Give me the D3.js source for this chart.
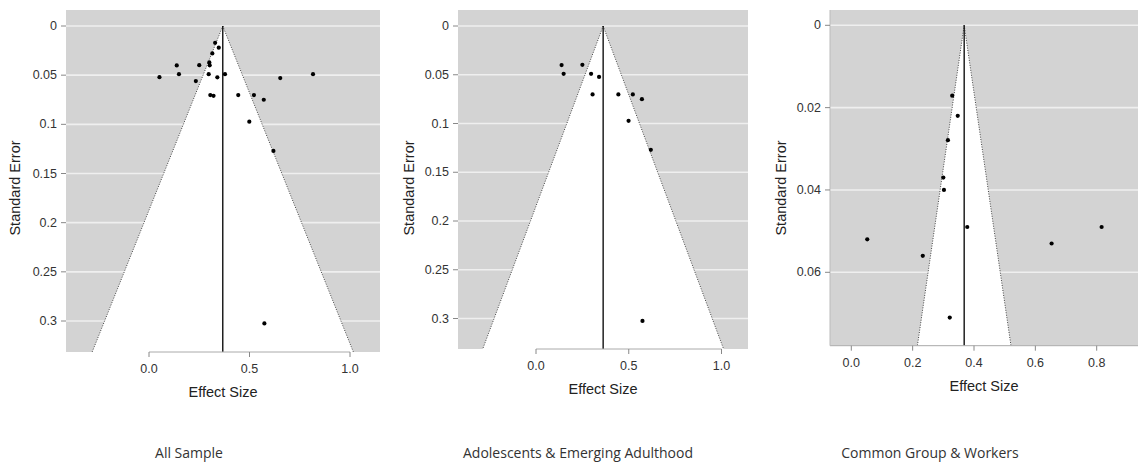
<!DOCTYPE html>
<html>
<head>
<meta charset="utf-8">
<script src="https://cdn.jsdelivr.net/npm/d3@7"></script>
<style>
  body { margin: 0; background: #fff; }
  svg { display: block; }
  .tick-label { font-family: "Liberation Sans", Arial, sans-serif; font-size: 12.5px; fill: #333; }
  .axis-title { font-family: "Liberation Sans", Arial, sans-serif; font-size: 14.5px; fill: #222; }
  .caption { font-family: "Open Sans", "Noto Sans", sans-serif; font-size: 14px; fill: #333; }
</style>
</head>
<body>
<svg id="chart" width="1138" height="464"></svg>
<script>
// data (effect size, standard error) per study
var adolescentsEffect = [0.138, 0.149, 0.250, 0.297, 0.340, 0.305, 0.444, 0.522, 0.571, 0.499, 0.619, 0.574];
var adolescentsSE     = [0.0401, 0.0490, 0.0398, 0.0490, 0.0522, 0.0702, 0.0702, 0.0702, 0.0750, 0.0973, 0.1270, 0.3025];
var workersEffect = [0.329, 0.347, 0.315, 0.300, 0.302, 0.378, 0.052, 0.233, 0.321, 0.653, 0.816];
var workersSE     = [0.0171, 0.0220, 0.0279, 0.0370, 0.0400, 0.0490, 0.0520, 0.0560, 0.0710, 0.0530, 0.0490];

var allEffect = adolescentsEffect.concat(workersEffect);
var allSE = adolescentsSE.concat(workersSE);

var pooled = [0.367, 0.362, 0.368];
var captions = ['All Sample', 'Adolescents & Emerging Adulthood', 'Common Group & Workers'];

var xTicksWide = [0, 0.5, 1];
var yTicksWide = [0, 0.05, 0.1, 0.15, 0.2, 0.25, 0.3];
var xTicksNarrow = [0, 0.2, 0.4, 0.6, 0.8];
var yTicksNarrow = [0, 0.02, 0.04, 0.06];

var svg = d3.select('#chart');

var panels = [
  { effect: allEffect, se: allSE, pooled: pooled[0], caption: captions[0],
    left: 66, right: 380, top: 10, bottom: 352,
    xDomain: [0, 1], xRange: [149, 350], yDomain: [0, 0.3], yRange: [26, 321],
    xTicks: xTicksWide, yTicks: yTicksWide, fullAxis: false, yTitleX: 20, captionX: 189 },
  { effect: adolescentsEffect, se: adolescentsSE, pooled: pooled[1], caption: captions[1],
    left: 458, right: 748, top: 10, bottom: 349,
    xDomain: [0, 1], xRange: [536, 721.5], yDomain: [0, 0.3], yRange: [26, 318.5],
    xTicks: xTicksWide, yTicks: yTicksWide, fullAxis: false, yTitleX: 414, captionX: 578 },
  { effect: workersEffect, se: workersSE, pooled: pooled[2], caption: captions[2],
    left: 830, right: 1138, top: 10, bottom: 345.7,
    xDomain: [0, 0.8], xRange: [851.3, 1096.7], yDomain: [0, 0.06], yRange: [25.3, 272.3],
    xTicks: xTicksNarrow, yTicks: yTicksNarrow, fullAxis: true, yTitleX: 786, captionX: 930 }
];

panels.forEach(function(p, i){
  var x = d3.scaleLinear().domain(p.xDomain).range(p.xRange);
  var y = d3.scaleLinear().domain(p.yDomain).range(p.yRange);
  var g = svg.append('g');

  g.append('clipPath').attr('id', 'clip' + i)
    .append('rect')
    .attr('x', p.left).attr('y', p.top)
    .attr('width', p.right - p.left).attr('height', p.bottom - p.top);

  var plot = g.append('g').attr('clip-path', 'url(#clip' + i + ')');

  // background
  plot.append('rect')
    .attr('x', p.left).attr('y', p.top)
    .attr('width', p.right - p.left).attr('height', p.bottom - p.top)
    .style('fill', '#d3d3d3');

  // grid lines
  plot.selectAll('.grid').data(p.yTicks).enter().append('line')
    .attr('x1', p.left).attr('x2', p.right)
    .attr('y1', function(d){ return y(d); }).attr('y2', function(d){ return y(d); })
    .style('stroke', '#efefef').style('stroke-width', 1.6);

  // funnel
  var seMax = y.invert(p.bottom);
  var funnel = [[p.pooled, 0], [p.pooled - 1.96 * seMax, seMax], [p.pooled + 1.96 * seMax, seMax]];
  plot.append('path')
    .attr('d', d3.line().x(function(d){ return x(d[0]); }).y(function(d){ return y(d[1]); })(funnel) + 'Z')
    .style('fill', '#fff');

  var edge = d3.line().x(function(d){ return x(d[0]); }).y(function(d){ return y(d[1]); });
  plot.append('path').attr('d', edge([funnel[0], funnel[1]]))
    .style('fill', 'none').style('stroke', '#444').style('stroke-width', 1).style('stroke-dasharray', '1,1.5');
  plot.append('path').attr('d', edge([funnel[0], funnel[2]]))
    .style('fill', 'none').style('stroke', '#444').style('stroke-width', 1).style('stroke-dasharray', '1,1.5');

  // pooled estimate line
  plot.append('line')
    .attr('x1', x(p.pooled)).attr('x2', x(p.pooled))
    .attr('y1', y(0)).attr('y2', p.bottom)
    .style('stroke', '#111').style('stroke-width', 1.4);

  // studies
  plot.selectAll('.dot').data(p.effect).enter().append('circle')
    .attr('cx', function(d){ return x(d); })
    .attr('cy', function(d, j){ return y(p.se[j]); })
    .attr('r', 2.1)
    .style('fill', '#000');

  // x axis
  var ax0 = p.fullAxis ? p.left : x(p.xTicks[0]);
  var ax1 = p.fullAxis ? p.right : x(p.xTicks[p.xTicks.length - 1]);
  g.append('line')
    .attr('x1', ax0).attr('x2', ax1).attr('y1', p.bottom).attr('y2', p.bottom)
    .style('stroke', '#aaa').style('stroke-width', 1);
  g.selectAll('.xt').data(p.xTicks).enter().append('line')
    .attr('x1', function(d){ return x(d); }).attr('x2', function(d){ return x(d); })
    .attr('y1', p.bottom).attr('y2', p.bottom + 5)
    .style('stroke', '#888');
  g.selectAll('.xl').data(p.xTicks).enter().append('text')
    .attr('class', 'tick-label')
    .attr('x', function(d){ return x(d); })
    .attr('y', p.bottom + 21)
    .attr('text-anchor', 'middle')
    .text(function(d){ return d3.format('.1f')(d); });
  g.append('text').attr('class', 'axis-title')
    .attr('x', (p.left + p.right) / 2)
    .attr('y', p.bottom + 45)
    .attr('text-anchor', 'middle')
    .text('Effect Size');

  // y axis
  if (p.fullAxis) {
    g.append('line')
      .attr('x1', p.left).attr('x2', p.left).attr('y1', p.top).attr('y2', p.bottom)
      .style('stroke', '#bbb');
  }
  g.selectAll('.yt').data(p.yTicks).enter().append('line')
    .attr('x1', p.left - 5).attr('x2', p.left)
    .attr('y1', function(d){ return y(d); }).attr('y2', function(d){ return y(d); })
    .style('stroke', '#888');
  g.selectAll('.yl').data(p.yTicks).enter().append('text')
    .attr('class', 'tick-label')
    .attr('x', p.left - 9)
    .attr('y', function(d){ return y(d) + 4; })
    .attr('text-anchor', 'end')
    .text(function(d){ return String(d); });
  g.append('text').attr('class', 'axis-title')
    .attr('transform', 'translate(' + p.yTitleX + ',188) rotate(-90)')
    .attr('text-anchor', 'middle')
    .text('Standard Error');

  // caption
  g.append('text').attr('class', 'caption')
    .attr('x', p.captionX).attr('y', 458)
    .attr('text-anchor', 'middle')
    .text(p.caption);
});
</script>
</body>
</html>
